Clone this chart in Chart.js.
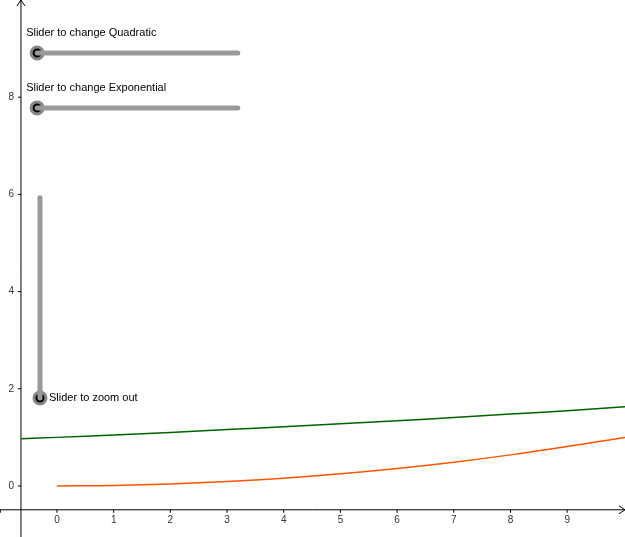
<!DOCTYPE html>
<html><head><meta charset="utf-8">
<script src="https://cdn.jsdelivr.net/npm/chart.js@4/dist/chart.umd.min.js"></script>
<style>html,body{margin:0;padding:0;background:#fff}#wrap{width:625px;height:537px}</style>
</head><body><div id="wrap"><canvas id="c"></canvas></div>
<script>
'use strict';

// ── Data ───────────────────────────────────────────────────────
const expX  = [-0.63, 0, 1, 2, 3, 4, 5, 6, 7, 8, 9, 10.02];
const expY  = [0.97, 1.0, 1.05, 1.10, 1.16, 1.22, 1.28, 1.34, 1.41, 1.48, 1.55, 1.63];
const quadX = [0, 1, 2, 3, 4, 5, 6, 7, 8, 9, 10.02];
const quadY = [0, 0.01, 0.04, 0.09, 0.16, 0.25, 0.36, 0.49, 0.64, 0.81, 1.0];
const xTicks = [-1, 0, 1, 2, 3, 4, 5, 6, 7, 8, 9];
const yTicks = [0, 2, 4, 6, 8];
const sliders = [
  { label: 'Slider to change Quadratic',   from: [-0.35, 8.91], to: [3.19, 8.91], knob: [-0.35, 8.91] },
  { label: 'Slider to change Exponential', from: [-0.35, 7.78], to: [3.19, 7.78], knob: [-0.35, 7.78] },
  { label: 'Slider to zoom out',           from: [-0.30, 5.93], to: [-0.30, 1.81], knob: [-0.30, 1.81] },
];

const X_MIN = -1.005, X_MAX = 10.02, Y_MIN = -1.05, Y_MAX = 10.0;
const AX_X = -0.635, AX_Y = -0.49; // where the axes cross
const FONT = "11px 'Liberation Sans', Arial, sans-serif";

const pts = (xs, ys) => xs.map((x, i) => ({ x, y: ys[i] }));

const sliderSets = sliders.map(s => ({
  data: [{ x: s.from[0], y: s.from[1] }, { x: s.to[0], y: s.to[1] }],
  showLine: true, borderColor: '#999999', borderWidth: 5, pointRadius: 0, borderCapStyle: 'round',
}));
const knobSets = sliders.map(s => ({
  data: [{ x: s.knob[0], y: s.knob[1] }],
  showLine: false, pointRadius: 6, backgroundColor: '#000', borderColor: '#888', borderWidth: 3,
}));

// ── Axes + labels plugin ───────────────────────────────────────
const axesPlugin = {
  id: 'axes',
  beforeDatasetsDraw(chart) {
    const { ctx, scales: { x, y } } = chart;
    const ox = x.getPixelForValue(AX_X), oy = y.getPixelForValue(AX_Y);
    ctx.save();
    ctx.strokeStyle = '#000'; ctx.lineWidth = 1;
    ctx.beginPath();
    ctx.moveTo(0, oy); ctx.lineTo(chart.width, oy);
    ctx.moveTo(ox, chart.height); ctx.lineTo(ox, 0);
    ctx.moveTo(chart.width - 6, oy - 4); ctx.lineTo(chart.width, oy); ctx.lineTo(chart.width - 6, oy + 4);
    ctx.moveTo(ox - 4, 6); ctx.lineTo(ox, 0); ctx.lineTo(ox + 4, 6);
    xTicks.forEach(v => { const px = x.getPixelForValue(v); ctx.moveTo(px, oy); ctx.lineTo(px, oy + 3); });
    yTicks.forEach(v => { const py = y.getPixelForValue(v); ctx.moveTo(ox - 3, py); ctx.lineTo(ox, py); });
    ctx.stroke();
    ctx.fillStyle = '#333'; ctx.font = "10px 'Liberation Sans', Arial, sans-serif";
    ctx.textAlign = 'center'; ctx.textBaseline = 'top';
    xTicks.filter(v => v >= 0).forEach(v => ctx.fillText(String(v), x.getPixelForValue(v), oy + 5));
    ctx.textAlign = 'right'; ctx.textBaseline = 'middle';
    yTicks.forEach(v => ctx.fillText(String(v), ox - 7, y.getPixelForValue(v)));
    ctx.restore();
  },
  afterDatasetsDraw(chart) {
    const { ctx, scales: { x, y } } = chart;
    ctx.save();
    ctx.fillStyle = '#000'; ctx.font = FONT; ctx.textBaseline = 'middle';
    sliders.forEach((s, i) => {
      const kx = x.getPixelForValue(s.knob[0]), ky = y.getPixelForValue(s.knob[1]);
      if (i < 2) ctx.fillText(s.label, kx - 11, ky - 20);
      else ctx.fillText(s.label, kx + 9, ky);
    });
    ctx.restore();
  },
};

// ── Chart ──────────────────────────────────────────────────────
new Chart(document.getElementById('c'), {
  type: 'scatter',
  data: {
    datasets: [
      { data: pts(expX, expY), showLine: true, borderColor: '#006400', borderWidth: 1.5, pointRadius: 0, tension: 0.4 },
      { data: pts(quadX, quadY), showLine: true, borderColor: '#ff5500', borderWidth: 1.5, pointRadius: 0, tension: 0.4 },
      ...sliderSets,
      ...knobSets,
    ],
  },
  options: {
    responsive: true, maintainAspectRatio: false, animation: false,
    layout: { padding: 0, autoPadding: false },
    plugins: { legend: { display: false }, tooltip: { enabled: false } },
    scales: {
      x: { type: 'linear', min: X_MIN, max: X_MAX, display: false },
      y: { type: 'linear', min: Y_MIN, max: Y_MAX, display: false },
    },
  },
  plugins: [axesPlugin],
});
</script></body></html>
